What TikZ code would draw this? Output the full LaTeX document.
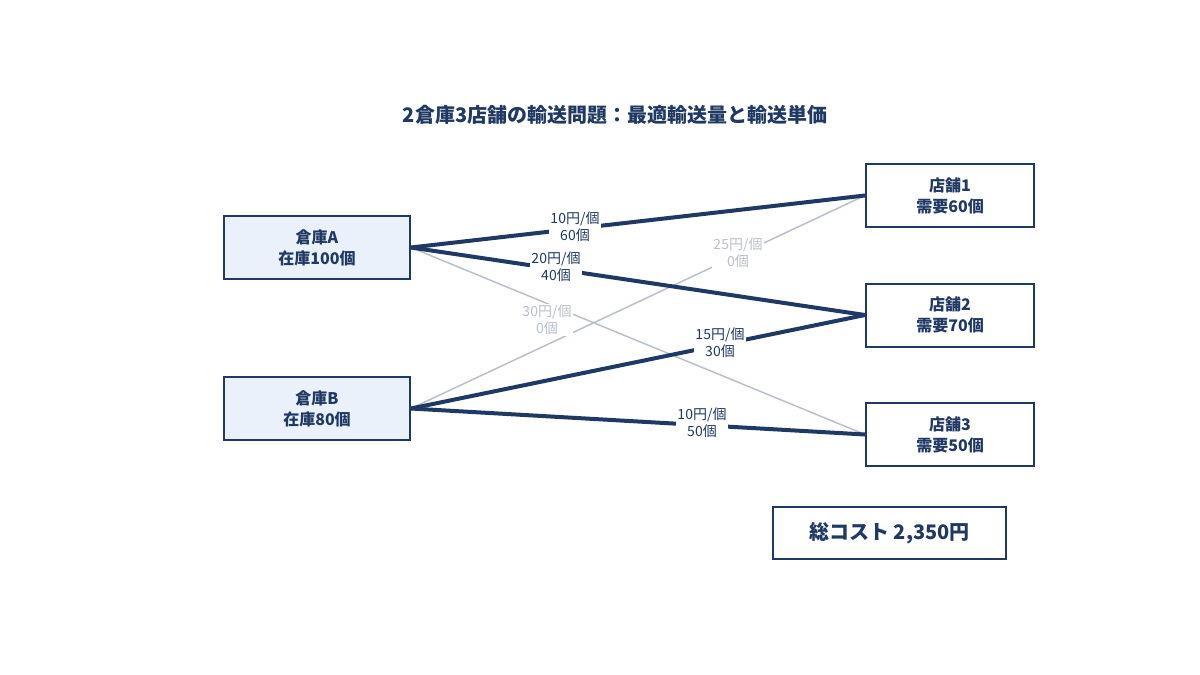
\documentclass[tikz,border=0pt]{standalone}
\usepackage{fontspec}
\setmainfont{Noto Sans CJK JP}
\begin{document}
\definecolor{navy}{HTML}{1F3864}
\definecolor{lb}{HTML}{EAF1FA}
\definecolor{gr}{HTML}{B8C0CC}
\begin{tikzpicture}[x=1pt,y=-1pt,
  box/.style={draw=navy,line width=2pt,minimum width=186pt,minimum height=63pt,align=center,font=\fontsize{16}{21}\selectfont\bfseries,text=navy,inner sep=0pt},
  wh/.style={box,fill=lb},
  st/.style={box,fill=white,minimum width=168pt},
  used/.style={draw=navy,line width=4pt},
  unused/.style={draw=gr,line width=1.5pt},
  lab/.style={fill=white,align=center,font=\fontsize{14}{17}\selectfont,text=navy,inner sep=1pt},
  glab/.style={lab,text=gr}]
\useasboundingbox (0,0) rectangle (1200,675);
\node[font=\fontsize{20}{24}\selectfont\bfseries,text=navy] (t) at (615,115) {2倉庫3店舗の輸送問題：最適輸送量と輸送単価};
\node[wh] (A) at (317,247.5) {倉庫A\\在庫100個};
\node[wh] (B) at (317,408.5) {倉庫B\\在庫80個};
\node[st] (S1) at (950,195.5) {店舗1\\需要60個};
\node[st] (S2) at (950,315) {店舗2\\需要70個};
\node[st] (S3) at (950,434.5) {店舗3\\需要50個};
\node[box,fill=white,minimum width=233pt,minimum height=52pt,font=\fontsize{20}{24}\selectfont\bfseries] (T) at (889.5,533) {総コスト 2,350円};
\draw[unused] (A.east) -- (S3.west);
\draw[unused] (B.east) -- (S1.west);
\draw[used] (A.east) -- (S1.west);
\draw[used] (A.east) -- (S2.west);
\draw[used] (B.east) -- (S2.west);
\draw[used] (B.east) -- (S3.west);
\node[glab] (l3) at (547,320) {30円/個\\0個};
\node[glab] (l4) at (738,253) {25円/個\\0個};
\node[lab] (l1) at (575,227) {10円/個\\60個};
\node[lab] (l2) at (556,267) {20円/個\\40個};
\node[lab] (l5) at (720,343) {15円/個\\30個};
\node[lab] (l6) at (702,423) {10円/個\\50個};
\end{tikzpicture}
\end{document}
